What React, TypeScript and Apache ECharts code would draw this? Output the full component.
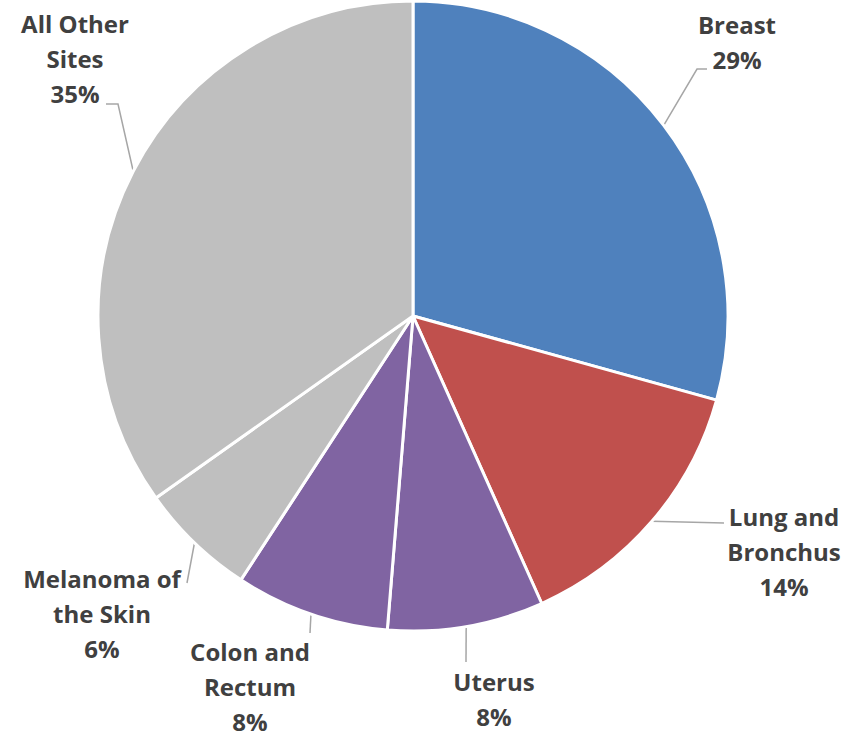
import React, { useEffect, useRef } from "react";
import * as echarts from "echarts";

const categories = ["Breast", "Lung and Bronchus", "Uterus", "Colon and Rectum", "Melanoma of the Skin", "All Other Sites"];
const labelNames = ["Breast", "Lung and\nBronchus", "Uterus", "Colon and\nRectum", "Melanoma of\nthe Skin", "All Other\nSites"];
const values = [29.3, 14.0, 8.0, 7.9, 6.0, 34.8];
const colors = ["#4F81BD", "#C0504D", "#8064A2", "#8064A2", "#BFBFBF", "#BFBFBF"];

// label block centers (layout only)
const labelPos: [number, number][] = [
  [737, 42],
  [784, 551],
  [494, 699],
  [250, 686],
  [102, 613],
  [75, 58],
];
// leader line elbow and end points (layout only)
const leaderPts: [number, number][][] = [
  [[697, 69], [707, 69]],
  [[724, 523], [724, 523]],
  [[466, 662], [466, 662]],
  [[310, 633], [310, 633]],
  [[187, 583], [187, 583]],
  [[118, 104], [106, 104]],
];

export default function App() {
  const ref = useRef<HTMLDivElement>(null);
  useEffect(() => {
    const chart = echarts.init(ref.current!, null, { renderer: "svg" });
    chart.setOption({
      animation: false,
      series: [
        {
          type: "pie",
          center: [413, 316],
          radius: 315,
          startAngle: 90,
          clockwise: true,
          avoidLabelOverlap: false,
          data: categories.map((c, i) => ({
            name: c,
            value: values[i],
            itemStyle: { color: colors[i] },
          })),
          itemStyle: { borderColor: "#ffffff", borderWidth: 3 },
          label: {
            show: true,
            position: "outside",
            color: "#404040",
            fontFamily: "Open Sans",
            fontWeight: "bold",
            fontSize: 24,
            lineHeight: 35,
            align: "center",
            formatter: (p: any) => labelNames[p.dataIndex] + "\n" + Math.round(p.value) + "%",
          },
          labelLine: {
            show: true,
            length: 20,
            length2: 10,
            lineStyle: { color: "#A6A6A6", width: 1.5 },
          },
          labelLayout: (params: any) => {
            const i = params.dataIndex;
            const pos = labelPos[i];
            const start = params.labelLinePoints ? params.labelLinePoints[0] : null;
            const res: any = { x: pos[0], y: pos[1], align: "center", verticalAlign: "middle" };
            if (start) {
              res.labelLinePoints = [[start[0], start[1]], leaderPts[i][0], leaderPts[i][1]];
            }
            return res;
          },
        },
      ],
    });
    return () => chart.dispose();
  }, []);
  return (
    <div
      ref={ref}
      style={{ position: "absolute", left: 0, top: 0, width: 858, height: 738 }}
    />
  );
}
